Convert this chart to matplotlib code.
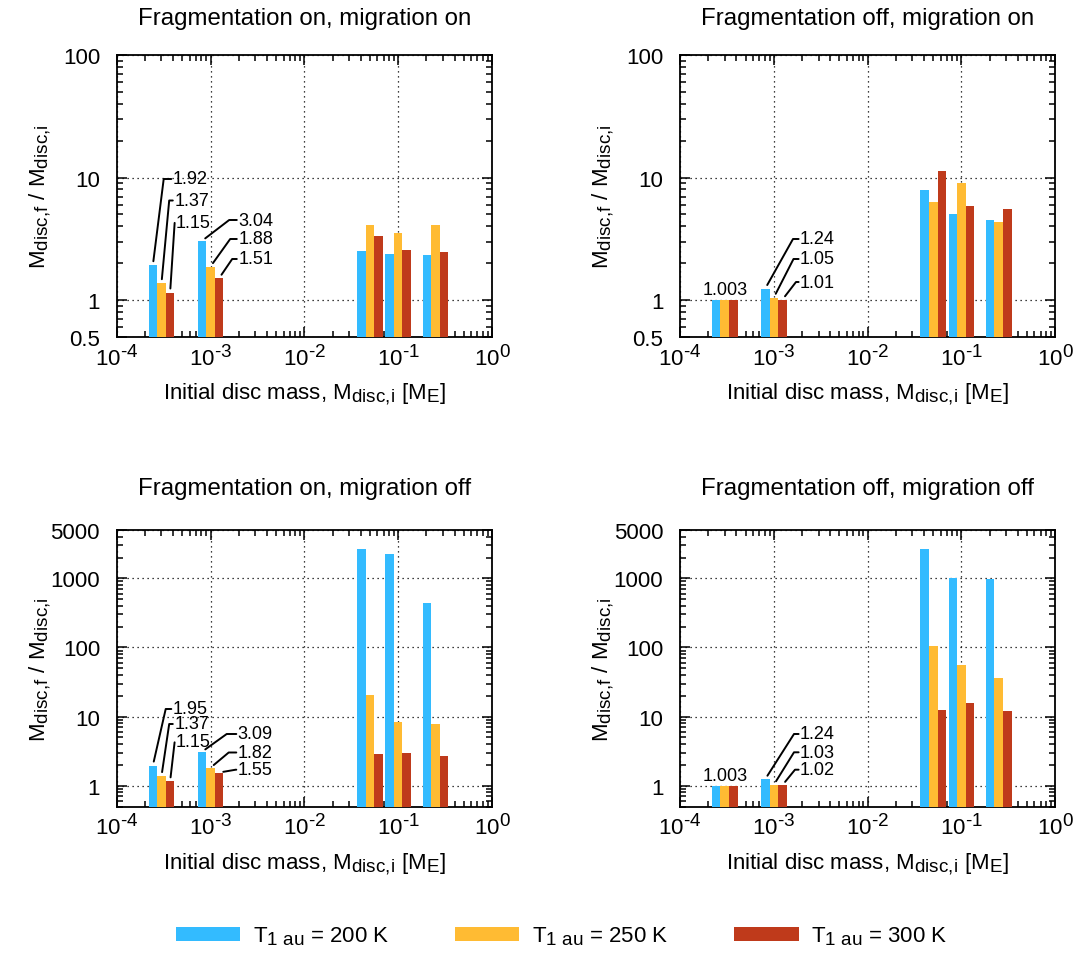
import numpy as np
import matplotlib
matplotlib.use('Agg')
import matplotlib.pyplot as plt
from matplotlib.patches import Patch
from matplotlib.ticker import LogLocator, NullFormatter

try:
    # gnuplot-style sub/superscripts are a bit larger than mathtext's default
    import matplotlib._mathtext as _mt
    _mt.SHRINK_FACTOR = 0.85
except Exception:
    pass


plt.rcParams['font.family'] = ['Liberation Sans', 'DejaVu Sans']
plt.rcParams['mathtext.fontset'] = 'custom'
plt.rcParams['mathtext.rm'] = 'Liberation Sans'
plt.rcParams['mathtext.it'] = 'Liberation Sans:italic'
plt.rcParams['font.size'] = 16


DISC_MASS = [3e-4, 1e-3, 0.05, 0.1, 0.25]
TEMPERATURES = [200, 250, 300]
COLORS = ['#33bbff', '#ffbb33', '#bf3a1b']

# M_disc,f / M_disc,i, one row per initial disc mass, columns = temperatures
FRAG_ON_MIG_ON = [[1.92, 1.37, 1.15], [3.04, 1.88, 1.51], [2.50, 4.07, 3.32],
                  [2.36, 3.50, 2.55], [2.32, 4.07, 2.45]]
FRAG_OFF_MIG_ON = [[1.003, 1.003, 1.003], [1.24, 1.05, 1.01], [7.88, 6.28, 11.25],
                   [5.01, 8.98, 5.83], [4.48, 4.31, 5.50]]
FRAG_ON_MIG_OFF = [[1.95, 1.37, 1.15], [3.09, 1.82, 1.55], [2690, 20.6, 2.88],
                   [2230, 8.37, 2.98], [444, 7.83, 2.69]]
FRAG_OFF_MIG_OFF = [[1.003, 1.003, 1.003], [1.24, 1.03, 1.02], [2690, 106, 12.5],
                    [1023, 56, 15.8], [990, 36.3, 12.1]]

TITLES = ['Fragmentation on, migration on', 'Fragmentation off, migration on',
          'Fragmentation on, migration off', 'Fragmentation off, migration off']

BAR_W = 0.092  # bar width in decades
FIG_W, FIG_H = 1077, 954
LABEL_SIZE = 13


def panel(rect):
    x, top, w, h = rect
    return fig.add_axes([x / FIG_W, 1 - (top + h) / FIG_H, w / FIG_W, h / FIG_H])


def draw_bars(ax, data):
    data = np.asarray(data)
    logc = np.log10(DISC_MASS)
    for j in range(3):
        left = logc + (j - 1.5) * BAR_W
        x0, x1 = 10 ** left, 10 ** (left + BAR_W)
        ax.bar(x0, data[:, j] - 1e-2, width=x1 - x0, bottom=1e-2, align='edge',
               color=COLORS[j], linewidth=0, zorder=3)


def bar_x(i, j):
    return 10 ** (np.log10(DISC_MASS[i]) + (j - 1) * BAR_W)


def leader(ax, i, j, value, tx, ty, h):
    org = ax.transAxes.transform((0, 0))
    bx, by = ax.transData.transform((bar_x(i, j), value)) - org
    ang = np.degrees(np.arctan2(ty - by, tx - h - bx))
    ax.annotate(f'{value:g}', xy=(bar_x(i, j), value), xytext=(tx, ty),
                textcoords='axes pixels', ha='left', va='center', zorder=5,
                fontsize=LABEL_SIZE,
                arrowprops=dict(arrowstyle='-', color='k', lw=1.4, relpos=(0, 0.5),
                                patchA=None, shrinkA=1, shrinkB=3,
                                connectionstyle=f'angle,angleA=180,angleB={ang:.2f},rad=0'))


def style(ax, title, yticks, ylim, title_pad):
    ax.set_xscale('log')
    ax.set_yscale('log')
    ax.set_xlim(1e-4, 1)
    ax.set_ylim(*ylim)
    ax.set_xticks([1e-4, 1e-3, 1e-2, 1e-1, 1])
    ax.set_xticklabels([r'$\mathregular{10^{\text{%d}}}$' % k for k in range(-4, 1)])
    ax.xaxis.set_minor_locator(LogLocator(base=10, subs=np.arange(2, 10), numticks=20))
    ax.xaxis.set_minor_formatter(NullFormatter())
    ax.set_yticks(yticks)
    ax.set_yticklabels([f'{t:g}' for t in yticks])
    ax.yaxis.set_minor_locator(LogLocator(base=10, subs=np.arange(2, 10), numticks=20))
    ax.yaxis.set_minor_formatter(NullFormatter())
    ax.tick_params(which='both', direction='in', top=True, right=True, width=1.1)
    ax.tick_params(which='major', length=7)
    ax.tick_params(which='minor', length=4)
    ax.tick_params(axis='x', which='major', pad=5)
    ax.tick_params(axis='y', which='major', pad=12)
    for s in ax.spines.values():
        s.set_linewidth(1.3)
    ax.grid(which='major', linestyle=(0, (1, 3)), color='k', linewidth=0.9, zorder=0)
    ax.set_axisbelow(True)
    ax.set_title(title, pad=title_pad, fontsize=17.3)
    ax.set_xlabel(r'Initial disc mass, $\mathregular{M_{disc{,}i}}$ [$\mathregular{M_E}$]')
    ax.set_ylabel(r'$\mathregular{M_{disc{,}f}}$ / $\mathregular{M_{disc{,}i}}$')
    h = ax.get_position().height * FIG_H
    ax.xaxis.set_label_coords(0.5, -44 / h)
    ax.yaxis.set_label_coords(-63 / 375.3, 0.5)


fig = plt.figure(figsize=(FIG_W / 100, FIG_H / 100), dpi=100)

ax_tl = panel((116.7, 56, 375.3, 282))
ax_tr = panel((680, 56, 375.3, 282))
ax_bl = panel((116.7, 531, 375.3, 276.5))
ax_br = panel((680, 531, 375.3, 276.5))

datasets = [FRAG_ON_MIG_ON, FRAG_OFF_MIG_ON, FRAG_ON_MIG_OFF, FRAG_OFF_MIG_OFF]
for k, (ax, data) in enumerate(zip([ax_tl, ax_tr, ax_bl, ax_br], datasets)):
    draw_bars(ax, data)
    if k < 2:
        style(ax, TITLES[k], [0.5, 1, 10, 100], (0.5, 100), 22)
    else:
        style(ax, TITLES[k], [1, 10, 100, 1000, 5000], (0.5, 5000), 26)

# label placement: (group, temperature, text x, text y in axes pixels, knee length)
TL_LABELS = [(0, 0, 56, 158, 9), (0, 1, 57.5, 136.5, 5), (0, 2, 59, 115, 1),
             (1, 0, 121.5, 117, 9), (1, 1, 121.5, 98, 8), (1, 2, 121.5, 78, 6)]
TR_LABELS = [(1, 0, 120, 98, 7), (1, 1, 120, 78, 6.5), (1, 2, 120, 55, 4)]
BL_LABELS = [(0, 0, 56, 97.5, 7), (0, 1, 57.5, 82.5, 5), (0, 2, 59, 65, 1),
             (1, 0, 121, 72.5, 11), (1, 1, 121, 54, 9), (1, 2, 121, 36.8, 2)]
BR_LABELS = [(1, 0, 120, 72.5, 6), (1, 1, 120, 54.2, 6), (1, 2, 120, 36.8, 5)]

for ax, data, labels in [(ax_tl, FRAG_ON_MIG_ON, TL_LABELS), (ax_tr, FRAG_OFF_MIG_ON, TR_LABELS),
                         (ax_bl, FRAG_ON_MIG_OFF, BL_LABELS), (ax_br, FRAG_OFF_MIG_OFF, BR_LABELS)]:
    for i, j, tx, ty, h in labels:
        leader(ax, i, j, data[i][j], tx, ty, h)

for ax, data in [(ax_tr, FRAG_OFF_MIG_ON), (ax_br, FRAG_OFF_MIG_OFF)]:
    ax.annotate(f'{data[0][1]:g}', xy=(DISC_MASS[0], data[0][1]), xytext=(0, 2),
                textcoords='offset pixels', ha='center', va='bottom', zorder=5,
                fontsize=LABEL_SIZE)

handles = [Patch(facecolor=c, edgecolor='none') for c in COLORS]
labels = [r'$\mathregular{T_{1\ au}}$ = %d K' % t for t in TEMPERATURES]
fig.legend(handles, labels, loc='center', bbox_to_anchor=(0.5215, 1 - 937 / FIG_H), ncol=3,
           frameon=False, handlelength=2.9, handleheight=0.6, handletextpad=0.55,
           columnspacing=2.97)

fig.savefig('out.png', dpi=100)
